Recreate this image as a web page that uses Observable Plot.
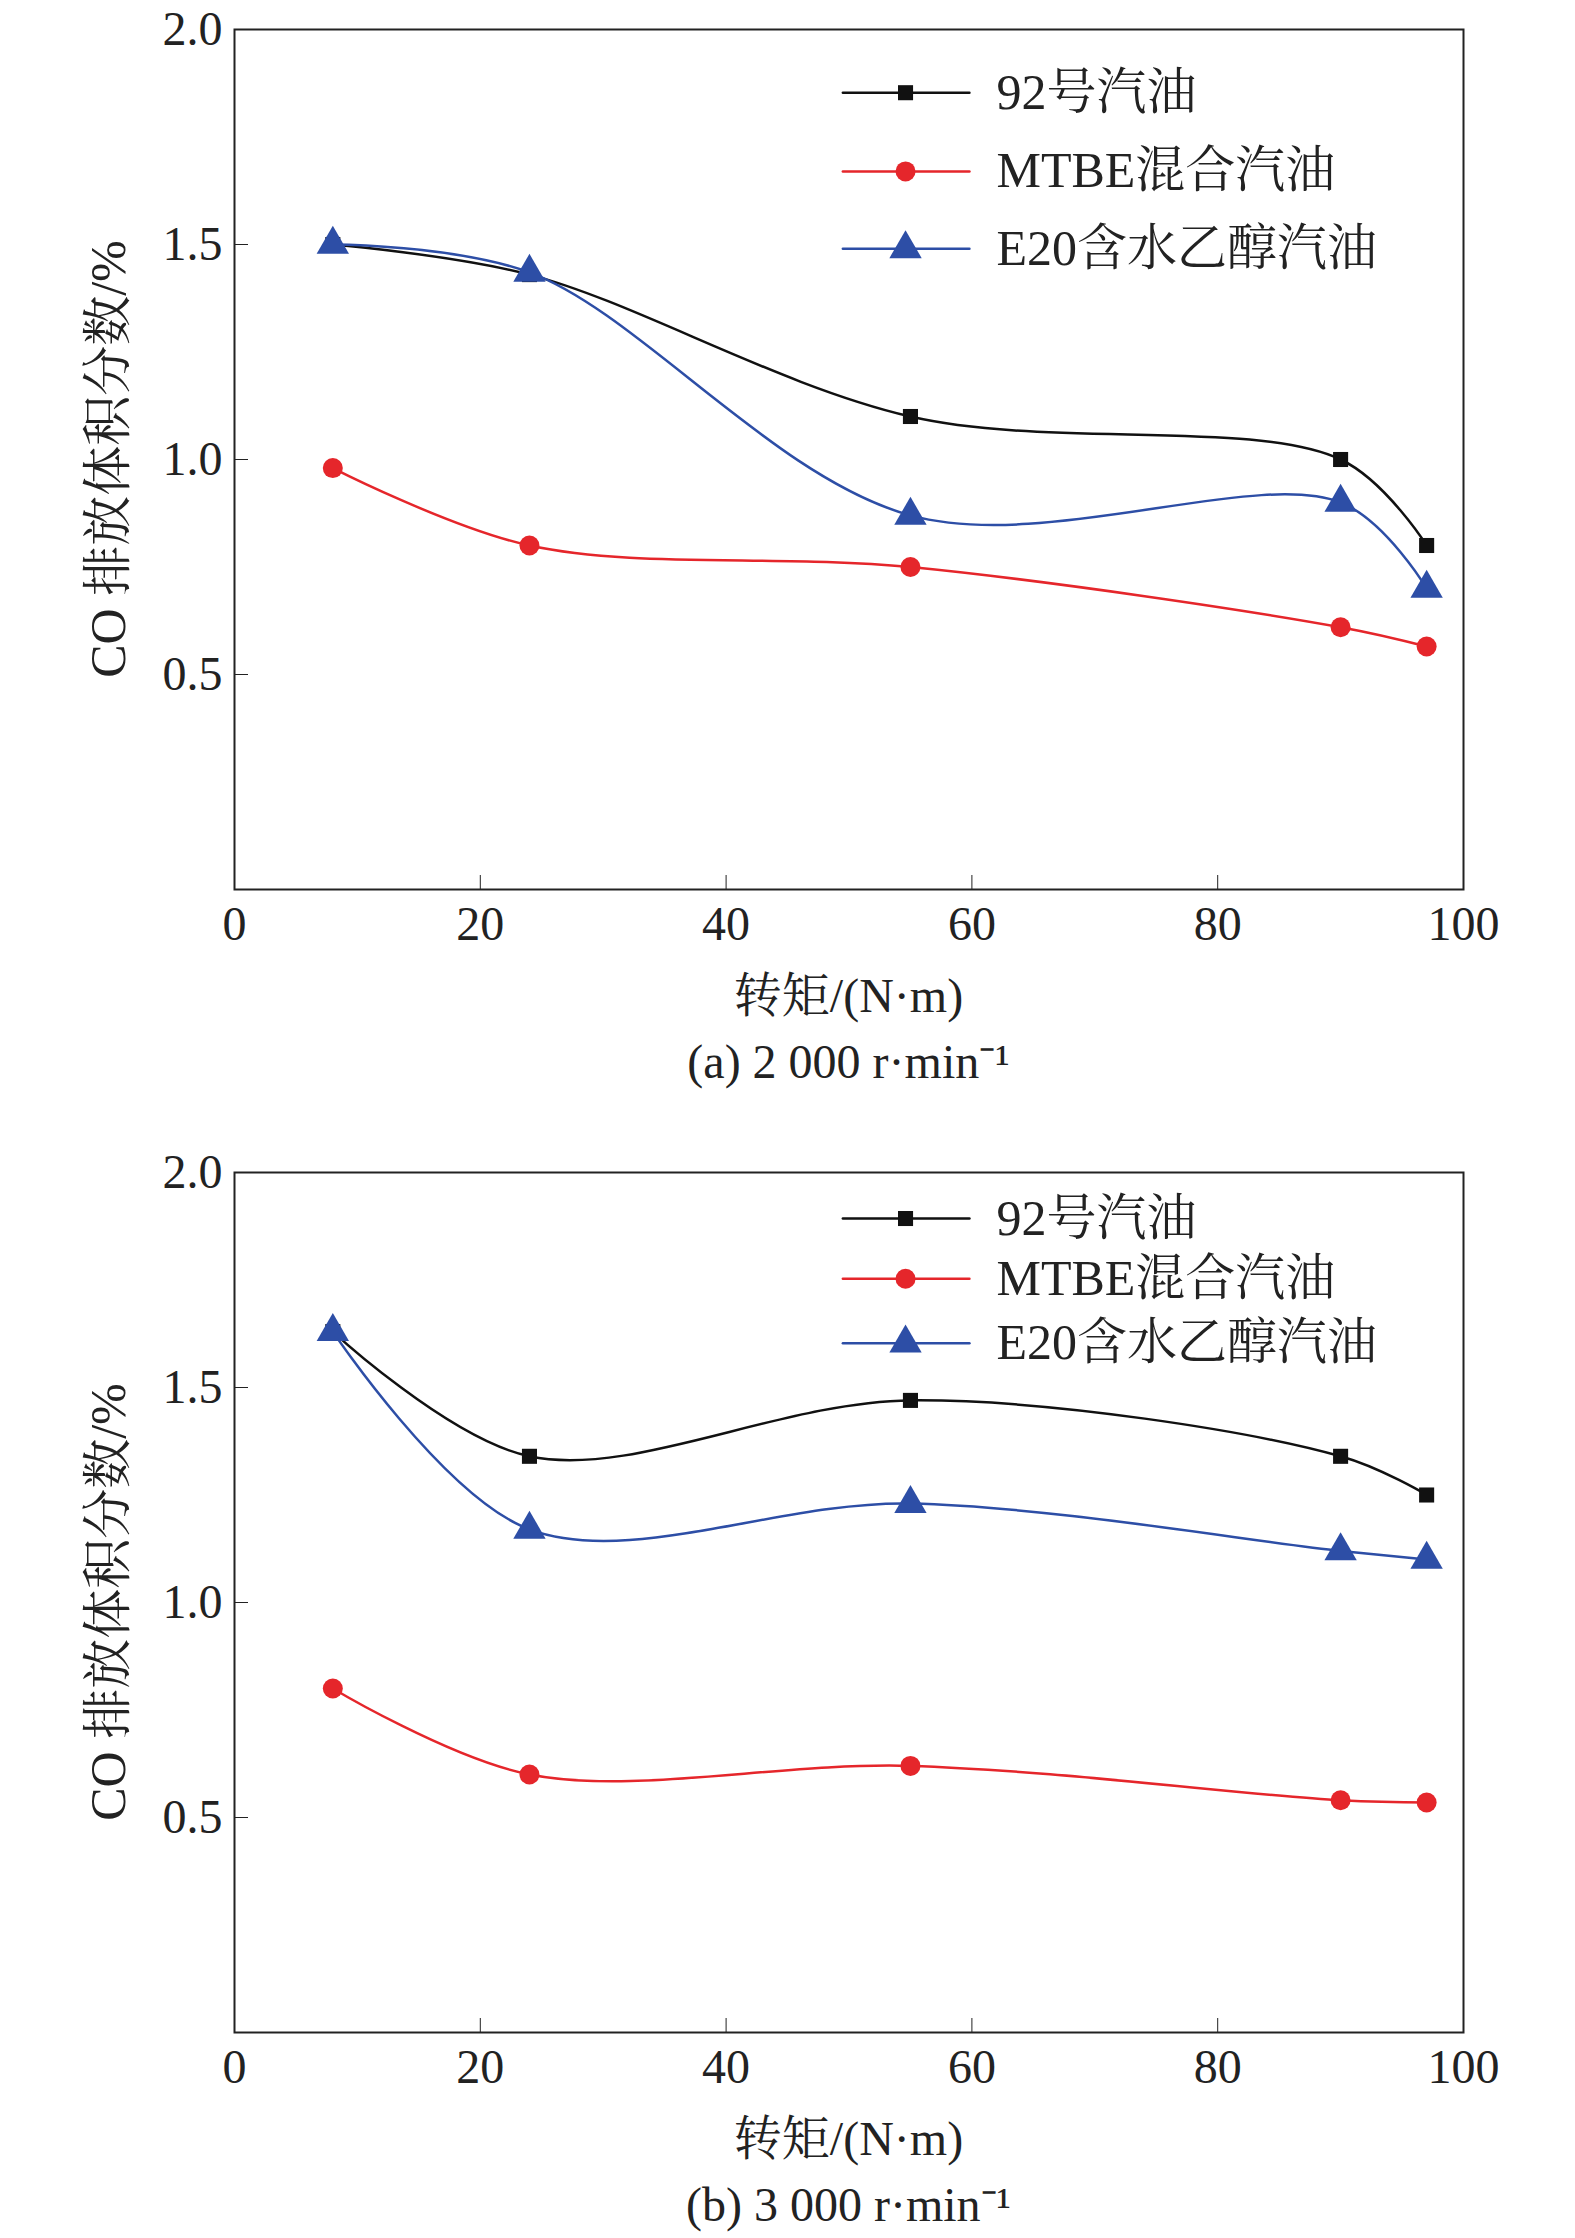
<!DOCTYPE html>
<html><head><meta charset="utf-8">
<script src="https://cdn.jsdelivr.net/npm/d3@7"></script>
<script src="https://cdn.jsdelivr.net/npm/@observablehq/plot@0.6"></script>
<style>
body{margin:0;background:#fff;width:1575px;height:2238px;position:relative;font-family:"Liberation Serif","Noto Serif CJK SC","Noto Sans CJK SC",serif;}
.abs{position:absolute;}
.t{position:absolute;left:234px;width:1229px;text-align:center;font-size:48px;color:#222;line-height:1;}
</style></head><body>
<script>
const torque = [8, 24, 55, 90, 97];
const seriesNames = ["92号汽油", "MTBE混合汽油", "E20含水乙醇汽油"];
const a92 = [1.5, 1.43, 1.1, 1.0, 0.8];
const aMTBE = [0.98, 0.80, 0.75, 0.61, 0.565];
const aE20 = [1.5, 1.435, 0.87, 0.90, 0.70];
const b92 = [1.63, 1.34, 1.47, 1.34, 1.25];
const bMTBE = [0.80, 0.60, 0.62, 0.54, 0.535];
const bE20 = [1.63, 1.17, 1.23, 1.12, 1.10];
const xTicks = [0, 20, 40, 60, 80, 100];
const yTicks = [0.5, 1.0, 1.5, 2.0];
const colors = ["#111111", "#e5262b", "#2d4ea6"];
const symbols = ["square", "circle", "triangle"];
const sizes = [8.5, 10, 12];
const captions = ["(a) 2 000 r·min⁻¹", "(b) 3 000 r·min⁻¹"];
const FONT = '"Liberation Serif", "Noto Serif CJK SC", "Noto Sans CJK SC", serif';

function panel(vals, top, legendY, caption){
  const marks = [Plot.frame({stroke:"#222", strokeWidth:2})];
  vals.forEach((v,i)=>{
    const d = torque.map((x,j)=>({x, y:v[j]}));
    marks.push(Plot.line(d,{x:"x",y:"y",stroke:colors[i],strokeWidth:2.5,curve:"catmull-rom"}));
    marks.push(Plot.dot(d,{x:"x",y:"y",fill:colors[i],symbol:symbols[i],r:sizes[i]}));
    const ly = legendY[i];
    marks.push(Plot.line([{x:49.5,y:ly},{x:59.8,y:ly}],{x:"x",y:"y",stroke:colors[i],strokeWidth:2.5}));
    marks.push(Plot.dot([{x:54.6,y:ly}],{x:"x",y:"y",fill:colors[i],symbol:symbols[i],r:sizes[i]}));
    marks.push(Plot.text([{x:62,y:ly,t:seriesNames[i]}],{x:"x",y:"y",text:"t",textAnchor:"start",fontSize:50,fill:"#222"}));
  });
  marks.push(Plot.axisX({ticks:xTicks, tickSize:-14, tickPadding:30, fontSize:48, label:null, tickFormat:d=>d}));
  marks.push(Plot.axisY({ticks:yTicks, tickSize:-14, tickPadding:26, fontSize:48, label:null, tickFormat:d3.format(".1f")}));
  const svg = Plot.plot({
    width:1575, height:969, marginLeft:234, marginRight:112, marginTop:29, marginBottom:80,
    x:{domain:[0,100]}, y:{domain:[0,2]},
    style:{fontFamily:FONT, color:"#222", background:"transparent"},
    marks
  });
  const wrap = document.createElement("div");
  wrap.className="abs"; wrap.style.left="0px"; wrap.style.top=top+"px";
  wrap.appendChild(svg);
  document.body.appendChild(wrap);
  const yl = document.createElement("div");
  yl.className="abs";
  yl.style.cssText=`left:103px;top:${top+29+430}px;transform:translate(-50%,-50%) rotate(-90deg);white-space:nowrap;font-size:50px;color:#222;`;
  yl.textContent="CO 排放体积分数/%";
  document.body.appendChild(yl);
  const xt = document.createElement("div"); xt.className="t"; xt.style.top=(top+972)+"px"; xt.textContent="转矩/(N·m)";
  document.body.appendChild(xt);
  const cp = document.createElement("div"); cp.className="t"; cp.style.top=(top+1038)+"px"; cp.textContent=caption;
  document.body.appendChild(cp);
}
panel([a92,aMTBE,aE20], 0, [1.853,1.67,1.49], captions[0]);
panel([b92,bMTBE,bE20], 1143, [1.893,1.753,1.603], captions[1]);
</script>
</body></html>
